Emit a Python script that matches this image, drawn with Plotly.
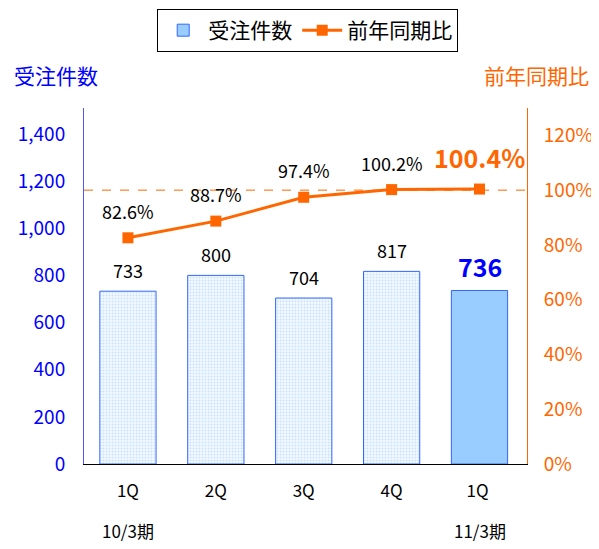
import plotly.graph_objects as go

categories = ["1Q", "2Q", "3Q", "4Q", "1Q "]
orders = [733, 800, 704, 817, 736]
yoy = [82.6, 88.7, 97.4, 100.2, 100.4]
period_labels = ["10/3期", "11/3期"]
period_positions = [0, 4]
left_ticks = [0, 200, 400, 600, 800, 1000, 1200, 1400]
right_ticks = [0, 20, 40, 60, 80, 100, 120]

FONT = "Noto Sans CJK JP, Liberation Sans, sans-serif"
BLUE = "#0000FF"
ORANGE = "#FF6600"

fig = go.Figure()

fig.add_trace(go.Bar(
    x=categories[:-1],
    y=orders[:-1],
    name="受注件数",
    width=0.64,
    marker=dict(
        color="#EEF6FF",
        line=dict(color="#3366FF", width=1),
        pattern=dict(shape=".", fgcolor="#99CCFF", bgcolor="#F4F9FF", size=3, solidity=0.35),
    ),
    showlegend=False,
    hoverinfo="x+y",
))
fig.add_trace(go.Bar(
    x=categories[-1:],
    y=orders[-1:],
    name="受注件数",
    width=0.64,
    marker=dict(color="#99CCFF", line=dict(color="#3366FF", width=1)),
    hoverinfo="x+y",
))
fig.add_trace(go.Scatter(
    x=categories,
    y=yoy,
    name="前年同期比",
    yaxis="y2",
    mode="lines+markers",
    line=dict(color=ORANGE, width=3),
    marker=dict(symbol="square", size=11, color=ORANGE),
    cliponaxis=False,
))

annotations = []
for i, (c, v) in enumerate(zip(categories, orders)):
    last = i == len(orders) - 1
    annotations.append(dict(
        x=c, y=v, xref="x", yref="y", yanchor="bottom", yshift=6 if not last else 4,
        text=f"<b>{v}</b>" if last else str(v), showarrow=False,
        font=dict(size=25 if last else 18, color=BLUE if last else "#000000", family=FONT),
    ))
for i, (c, v) in enumerate(zip(categories, yoy)):
    last = i == len(yoy) - 1
    annotations.append(dict(
        x=c, y=v, xref="x", yref="y2", yanchor="bottom", yshift=12,
        text=f"<b>{v:.1f}%</b>" if last else f"{v:.1f}%", showarrow=False,
        font=dict(size=25 if last else 18, color=ORANGE if last else "#000000", family=FONT),
    ))
for lbl, pos in zip(period_labels, period_positions):
    annotations.append(dict(
        x=categories[pos], y=-0.188, xref="x", yref="paper", yanchor="middle",
        text=lbl, showarrow=False, font=dict(size=17, color="#000000", family=FONT),
    ))
annotations.append(dict(
    x=-0.163, y=1.093, xref="paper", yref="paper", xanchor="left", yanchor="middle",
    text="受注件数", showarrow=False, font=dict(size=21, color=BLUE, family=FONT),
))
annotations.append(dict(
    x=1.145, y=1.093, xref="paper", yref="paper", xanchor="right", yanchor="middle",
    text="前年同期比", showarrow=False, font=dict(size=21, color=ORANGE, family=FONT),
))

fig.update_layout(
    # the page body offsets the figure by 8px, so the figure is shrunk by that much
    width=591,
    height=541,
    margin=dict(l=76, r=72, t=100, b=85, autoexpand=False),
    paper_bgcolor="white",
    plot_bgcolor="white",
    font=dict(family=FONT, size=16, color="#000000"),
    bargap=0.36,
    annotations=annotations,
    shapes=[dict(
        type="line", xref="paper", yref="y2", x0=0, x1=1, y0=100, y1=100,
        line=dict(color=ORANGE, width=1, dash="dash"), layer="below",
    )],
    legend=dict(
        orientation="h",
        x=0.505, xanchor="center",
        y=1.278, yanchor="top",
        bordercolor="#000000", borderwidth=1,
        font=dict(size=21, color="#000000", family=FONT),
        traceorder="normal",
        itemwidth=40,
    ),
    xaxis=dict(
        type="category",
        showline=True, linecolor="#000000", linewidth=1,
        ticks="", ticklabelstandoff=12, tickfont=dict(size=17, color="#000000"),
        showgrid=False, zeroline=False,
    ),
    yaxis=dict(
        range=[0, 1510],
        tickvals=left_ticks,
        tickformat=",d",
        showline=True, linecolor="#5555FF", linewidth=1,
        ticks="", ticklabelstandoff=14,
        tickfont=dict(size=19, color=BLUE),
        showgrid=False, zeroline=False,
    ),
    yaxis2=dict(
        range=[0, 130],
        overlaying="y",
        side="right",
        tickvals=right_ticks,
        ticktext=[f"{t}%" for t in right_ticks],
        showline=True, linecolor=ORANGE, linewidth=1,
        ticks="", ticklabelstandoff=12,
        tickfont=dict(size=19, color=ORANGE),
        showgrid=False, zeroline=False,
    ),
)

fig.write_html("out.html")
